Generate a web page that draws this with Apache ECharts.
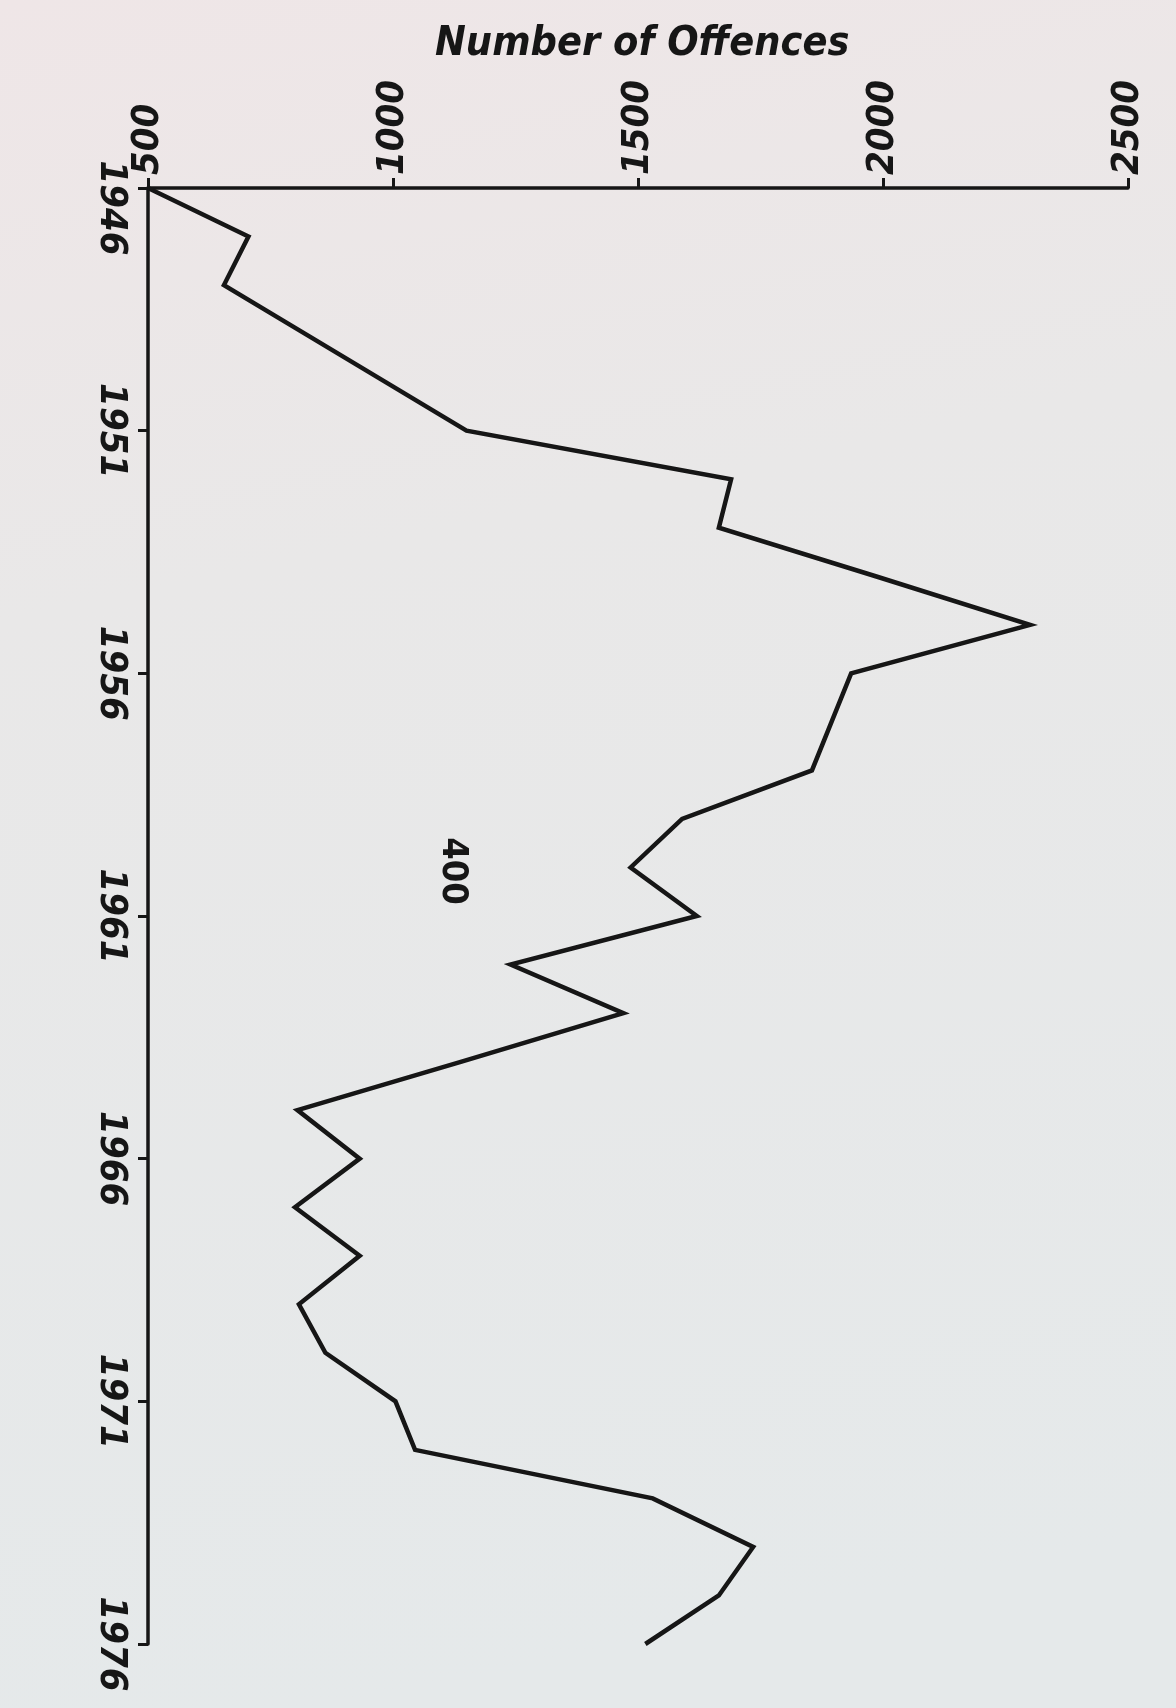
<!DOCTYPE html>
<html>
<head>
<meta charset="utf-8">
<script src="https://cdn.jsdelivr.net/npm/echarts@6/dist/echarts.min.js"></script>
<style>
  html, body { margin: 0; padding: 0; background: #e9e8e8; }
  #chart { width: 1176px; height: 1708px; }
</style>
</head>
<body>
<div id="chart"></div>
<script>
// years run down the page, offences across the top
var years = ['1946','1947','1948','1949','1950','1951','1952','1953','1954','1955','1956',
  '1957','1958','1959','1960','1961','1962','1963','1964','1965','1966',
  '1967','1968','1969','1970','1971','1972','1973','1974','1975','1976']
var offences = [500, 705, 655, 820, 985, 1150, 1690, 1665, 1985, 2300, 1935,
  1895, 1855, 1590, 1485, 1620, 1240, 1470, 1140, 805, 932,
  800, 932, 808, 862, 1005, 1045, 1530, 1735, 1665, 1515]
var valueTicks = [500, 1000, 1500, 2000, 2500]
var pageNumber = '400'

var ink = '#161616'
var labelFont = {
  color: ink,
  fontFamily: 'DejaVu Sans Condensed',
  fontStyle: 'italic',
  fontWeight: 'bold',
  fontSize: 38
}

var myChart = echarts.init(document.getElementById('chart'))
myChart.setOption({
  animation: false,
  backgroundColor: {
    type: 'linear', x: 0, y: 0, x2: 0.3, y2: 1,
    colorStops: [
      { offset: 0, color: '#efe6e7' },
      { offset: 0.35, color: '#e9e8e8' },
      { offset: 1, color: '#e5e9ea' }
    ]
  },
  title: {
    text: 'Number of Offences',
    left: 430,
    top: 19,
    textStyle: {
      color: ink,
      fontFamily: 'DejaVu Sans Condensed',
      fontStyle: 'italic',
      fontWeight: 'bold',
      fontSize: 41
    }
  },
  grid: { left: 148, right: 48, top: 188, bottom: 64 },
  xAxis: {
    type: 'value',
    position: 'top',
    min: valueTicks[0],
    max: valueTicks[valueTicks.length - 1],
    interval: 500,
    splitLine: { show: false },
    axisLine: { show: true, lineStyle: { color: ink, width: 3.5 } },
    axisTick: { show: true, length: 10, lineStyle: { color: ink, width: 3 } },
    axisLabel: Object.assign({
      rotate: -90,
      margin: 13,
      padding: [0, 0, 20, 0],
      formatter: function (v) { return String(v) }
    }, labelFont)
  },
  yAxis: {
    type: 'category',
    inverse: true,
    boundaryGap: false,
    data: years,
    splitLine: { show: false },
    axisLine: { show: true, lineStyle: { color: ink, width: 3.5 } },
    axisTick: { show: true, interval: 4, length: 10, lineStyle: { color: ink, width: 3 } },
    axisLabel: Object.assign({
      rotate: -90,
      margin: 18,
      interval: 4,
      // first year sits a little lower so it clears the 500 label
      formatter: function (v, i) { return i === 0 ? '{first|' + v + '}' : v },
      rich: { first: Object.assign({ padding: [0, 0, 0, 40] }, labelFont) }
    }, labelFont)
  },
  series: [{
    type: 'line',
    data: offences,
    showSymbol: false,
    lineStyle: { color: ink, width: 4.5, join: 'miter' }
  }],
  graphic: [{
    type: 'text',
    x: 452,
    y: 871,
    rotation: -Math.PI / 2,
    style: {
      text: pageNumber,
      fill: ink,
      font: 'bold 36px "DejaVu Sans Condensed"',
      align: 'center',
      verticalAlign: 'middle'
    }
  }]
})
</script>
</body>
</html>
